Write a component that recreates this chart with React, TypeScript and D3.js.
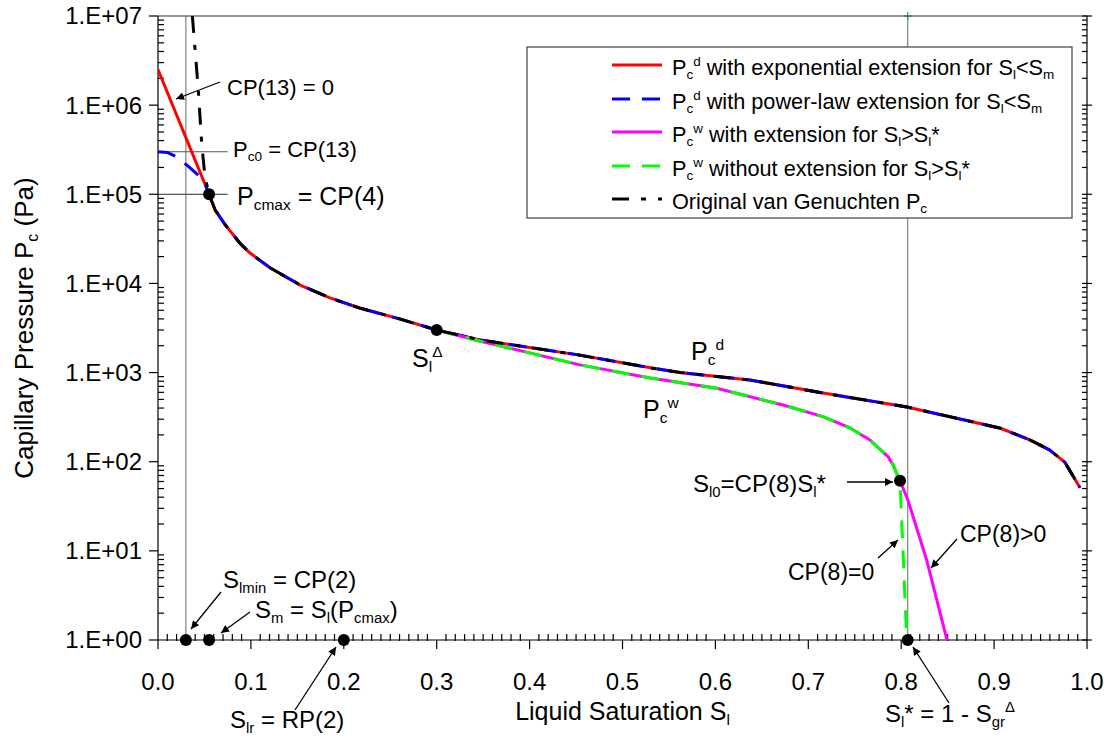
import React from 'react';
import * as d3 from 'd3';

// ---------------- data ----------------
// shared van Genuchten drainage branch (S_l, Pc in Pa)
const drainS = [0.055, 0.0614, 0.072, 0.088, 0.099, 0.121, 0.153, 0.185, 0.217, 0.26, 0.3, 0.347, 0.454, 0.53, 0.562, 0.637, 0.716, 0.806, 0.906, 0.939, 0.96, 0.976, 0.9925];
const drainPc = [1e5, 6.7e4, 4.6e4, 2.84e4, 2.19e4, 1.49e4, 9.6e3, 6.9e3, 5.3e3, 4.0e3, 3.0e3, 2.32e3, 1.57e3, 1.13e3, 1.0e3, 826, 590, 411, 239, 175, 135, 99, 51];
// exponential extension below S_m
const expS = [0, 0.055];
const expPc = [2.5e6, 1e5];
// power-law extension below S_m
const powS = [0, 0.01, 0.02, 0.033, 0.049, 0.055];
const powPc = [3.0e5, 2.95e5, 2.64e5, 2.04e5, 1.45e5, 1e5];
// original van Genuchten near residual saturation
const origS = [0.037, 0.0434, 0.047, 0.0506, 0.055];
const origPc = [1e7, 1.48e6, 3.76e5, 1.56e5, 1e5];
// imbibition (wetting) branch
const wetS = [0.3, 0.347, 0.454, 0.53, 0.6014, 0.6728, 0.7158, 0.7449, 0.7664, 0.7858, 0.7912, 0.7987];
const wetPc = [3000, 2250, 1220, 869, 666, 433, 320, 239, 175, 114, 92, 61];
// wetting extension for S_l > S_l*
const extS = [0.8073, 0.8274, 0.8493];
const extPc = [37, 7.9, 1];
// wetting without extension
const noExtS = [0.806];
const noExtPc = [1];
// highlighted points
const markS = [0.03, 0.055, 0.2, 0.807, 0.055, 0.3, 0.7987];
const markPc = [1, 1, 1, 1, 1e5, 3000, 61];
// reference lines
const vLineS = [0.03, 0.807];
const hLinePc = [3.0e5, 1e5];
const hLineEndS = 0.075;

const xTicks = [0, 0.1, 0.2, 0.3, 0.4, 0.5, 0.6, 0.7, 0.8, 0.9, 1.0];
const yExp = [0, 1, 2, 3, 4, 5, 6, 7];

const legendItems = [
  { label: 'P_{c}^{d} with exponential extension for S_{l}<S_{m}', color: '#ff0000', dash: '' },
  { label: 'P_{c}^{d} with power-law extension for S_{l}<S_{m}', color: '#0000ff', dash: '18,12' },
  { label: 'P_{c}^{w} with extension for S_{l}>S_{l}*', color: '#ff00ff', dash: '' },
  { label: 'P_{c}^{w} without extension for S_{l}>S_{l}*', color: '#00ff00', dash: '18,12' },
  { label: 'Original van Genuchten P_{c}', color: '#000000', dash: '17,12,5,12' },
];

// ---------------- layout ----------------
const W = 1112, H = 738;
const X0 = 158, X1 = 1087, Y0 = 640, Y1 = 16;
const FONT = 'Liberation Sans, Arial, sans-serif';

const x = d3.scaleLinear().domain([0, 1]).range([X0, X1]);
const y = d3.scaleLog().domain([1, 1e7]).range([Y0, Y1]);

const zip = (s: number[], p: number[]) => s.map((v, i) => [v, p[i]] as [number, number]);
const line = d3.line<[number, number]>().x(d => x(d[0])).y(d => y(d[1]));

type Seg = { t: string; k: 'n' | 'sub' | 'sup' };
function parse(s: string): Seg[] {
  const out: Seg[] = [];
  let buf = '';
  let i = 0;
  while (i < s.length) {
    const c = s[i];
    if ((c === '_' || c === '^') && s[i + 1] === '{') {
      if (buf) { out.push({ t: buf, k: 'n' }); buf = ''; }
      const end = s.indexOf('}', i);
      out.push({ t: s.slice(i + 2, end), k: c === '_' ? 'sub' : 'sup' });
      i = end + 1;
    } else { buf += c; i++; }
  }
  if (buf) out.push({ t: buf, k: 'n' });
  return out;
}

function Rich({ x: tx, y: ty, text, fs, anchor = 'start', transform }: { x: number; y: number; text: string; fs: number; anchor?: string; transform?: string }) {
  const segs = parse(text);
  let cur = 0;
  return (
    <text x={tx} y={ty} fontSize={fs} textAnchor={anchor} fontFamily={FONT} fill="#000" transform={transform} style={{ whiteSpace: 'pre' }}>
      {segs.map((sg, i) => {
        const off = sg.k === 'sub' ? 0.2 * fs : sg.k === 'sup' ? -0.42 * fs : 0;
        const dy = off - cur;
        cur = off;
        return <tspan key={i} dy={dy} fontSize={sg.k === 'n' ? fs : fs * 0.62}>{sg.t}</tspan>;
      })}
    </text>
  );
}

const annotations = [
  { text: 'CP(13) = 0', x: 227, y: 95, fs: 22 },
  { text: 'P_{c0} = CP(13)', x: 233, y: 157, fs: 22 },
  { text: 'P_{cmax} = CP(4)', x: 237, y: 205, fs: 25 },
  { text: 'S_{lmin} = CP(2)', x: 223, y: 588, fs: 24 },
  { text: 'S_{m} = S_{l}(P_{cmax})', x: 255, y: 618, fs: 24 },
  { text: 'S_{lr} = RP(2)', x: 230, y: 728, fs: 24 },
  { text: 'S_{l0}=CP(8)S_{l}*', x: 693, y: 492, fs: 24 },
  { text: 'CP(8)=0', x: 788, y: 580, fs: 23 },
  { text: 'CP(8)>0', x: 960, y: 542, fs: 23 },
  { text: 'S_{l}* = 1 - S_{gr}^{Δ}', x: 885, y: 722, fs: 24 },
  { text: 'P_{c}^{d}', x: 691, y: 360, fs: 25 },
  { text: 'P_{c}^{w}', x: 643, y: 418, fs: 25 },
  { text: 'S_{l}^{Δ}', x: 412, y: 367, fs: 25 },
];

const arrows = [
  [220, 82, 176, 99],
  [221, 592, 191, 629],
  [250, 612, 221, 633],
  [295, 710, 336, 647],
  [847, 482, 893, 482],
  [878, 558, 898, 540],
  [957, 539, 931, 568],
  [949, 703, 913, 647],
];

export default function App() {
  const red = zip(expS, expPc).concat(zip(drainS, drainPc).slice(1));
  const blue = zip(powS, powPc).concat(zip(drainS, drainPc).slice(1));
  const black = zip(origS, origPc).concat(zip(drainS, drainPc).slice(1));
  const wet = zip(wetS, wetPc);
  const magenta = wet.concat(zip(extS, extPc));
  const green = wet.concat(zip(noExtS, noExtPc));

  const minorY: number[] = [];
  for (let k = 0; k < 7; k++) for (let d = 2; d <= 9; d++) minorY.push(d * Math.pow(10, k));
  const minorX: number[] = d3.range(0, 101).filter(i => i % 10 !== 0).map(i => i / 100);

  const series = [
    { d: red, color: '#ff0000', dash: '' },
    { d: blue, color: '#0000ff', dash: '18,12' },
    { d: magenta, color: '#ff00ff', dash: '' },
    { d: green, color: '#00ff00', dash: '18,12' },
    { d: black, color: '#000000', dash: '17,12,5,12' },
  ];

  const legX = 527, legY = 47, legW = 545, legH = 171;
  const rowY = [65, 99, 132, 166, 199];

  return (
    <svg width={W} height={H} style={{ position: 'absolute', left: 0, top: 0, background: '#fff' }}>
      <defs>
        <clipPath id="plot"><rect x={X0} y={Y1} width={X1 - X0} height={Y0 - Y1} /></clipPath>
        <marker id="ah" viewBox="0 0 10 10" refX="10" refY="5" markerWidth="10" markerHeight="8" markerUnits="userSpaceOnUse" orient="auto">
          <path d="M0,0 L10,5 L0,10 z" fill="#000" />
        </marker>
      </defs>
      <rect x={0} y={0} width={W} height={H} fill="#fff" />

      {/* reference lines */}
      {vLineS.map((s, i) => (
        <line key={'v' + i} x1={x(s)} x2={x(s)} y1={Y1} y2={Y0} stroke="#808080" strokeWidth={1.2} />
      ))}
      {hLinePc.map((p, i) => (
        <line key={'h' + i} x1={X0} x2={x(hLineEndS)} y1={y(p)} y2={y(p)} stroke="#555" strokeWidth={1.2} />
      ))}
      <g stroke="#2a9a9a" strokeWidth={1.2}>
        <line x1={x(vLineS[1]) - 4} x2={x(vLineS[1]) + 4} y1={y(1e7)} y2={y(1e7)} />
        <line x1={x(vLineS[1])} x2={x(vLineS[1])} y1={y(1e7) - 4} y2={y(1e7) + 4} />
      </g>

      {/* axes */}
      <g stroke="#000" strokeWidth={1.2}>
        <line x1={X0} x2={X1} y1={Y0} y2={Y0} />
        <line x1={X0} x2={X1} y1={Y1} y2={Y1} stroke="#333" />
        <line x1={X0} x2={X0} y1={Y1} y2={Y0} />
        <line x1={X1} x2={X1} y1={Y1} y2={Y0} />
        {yExp.map(e => (
          <g key={'ym' + e}>
            <line x1={X0 - 9} x2={X0} y1={y(Math.pow(10, e))} y2={y(Math.pow(10, e))} />
            <line x1={X1 - 5} x2={X1 + 5} y1={y(Math.pow(10, e))} y2={y(Math.pow(10, e))} />
          </g>
        ))}
        {minorY.map((v, i) => (
          <g key={'yn' + i}>
            <line x1={X0} x2={X0 + 6} y1={y(v)} y2={y(v)} />
            <line x1={X1 - 5} x2={X1} y1={y(v)} y2={y(v)} />
          </g>
        ))}
        {xTicks.map((t, i) => (
          <line key={'xm' + i} x1={x(t)} x2={x(t)} y1={Y0} y2={Y0 + 9} />
        ))}
        {minorX.map((t, i) => (
          <line key={'xn' + i} x1={x(t)} x2={x(t)} y1={Y0 - 6} y2={Y0 + 1} />
        ))}
      </g>
      {yExp.map(e => (
        <text key={'yl' + e} x={142} y={y(Math.pow(10, e))} dy="0.35em" textAnchor="end" fontSize={24} fontFamily={FONT}>
          {'1.E+0' + e}
        </text>
      ))}
      {xTicks.map((t, i) => (
        <text key={'xl' + i} x={x(t)} y={690} textAnchor="middle" fontSize={24} fontFamily={FONT}>
          {t.toFixed(1)}
        </text>
      ))}
      <Rich x={(X0 + X1) / 2} y={720} text="Liquid Saturation S_{l}" fs={25} anchor="middle" />
      <Rich x={0} y={0} text="Capillary Pressure P_{c} (Pa)" fs={26} anchor="middle" transform={`translate(33,${(Y0 + Y1) / 2}) rotate(-90)`} />

      {/* series */}
      <g clipPath="url(#plot)" fill="none">
        {series.map((s, i) => (
          <path key={'s' + i} d={line(s.d) || ''} stroke={s.color} strokeWidth={3} strokeDasharray={s.dash || undefined} strokeLinejoin="round" />
        ))}
      </g>
      {markS.map((s, i) => (
        <circle key={'m' + i} cx={x(s)} cy={y(markPc[i])} r={6} fill="#000" />
      ))}

      {/* annotations */}
      {arrows.map((a, i) => (
        <line key={'a' + i} x1={a[0]} y1={a[1]} x2={a[2]} y2={a[3]} stroke="#000" strokeWidth={1.3} markerEnd="url(#ah)" />
      ))}
      {annotations.map((a, i) => (
        <Rich key={'t' + i} x={a.x} y={a.y} text={a.text} fs={a.fs} />
      ))}

      {/* legend */}
      <rect x={legX} y={legY} width={legW} height={legH} fill="#fff" stroke="#404040" strokeWidth={1.2} />
      {legendItems.map((it, i) => (
        <g key={'lg' + i}>
          <line x1={612} x2={662} y1={rowY[i]} y2={rowY[i]} stroke={it.color} strokeWidth={3} strokeDasharray={it.dash || undefined} />
          <Rich x={672} y={rowY[i] + 10} text={it.label} fs={21.7} />
        </g>
      ))}
    </svg>
  );
}
